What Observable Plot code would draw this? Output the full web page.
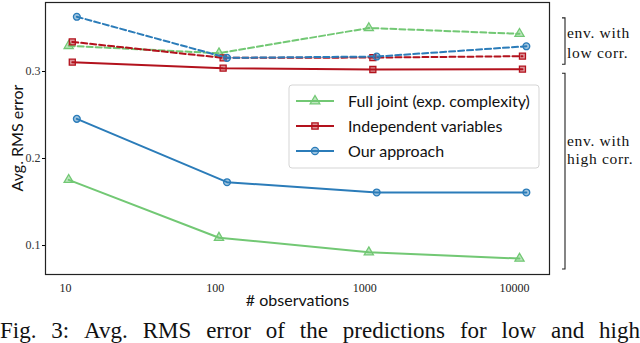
<!DOCTYPE html>
<html>
<head>
<meta charset="utf-8">
<script src="https://cdn.jsdelivr.net/npm/d3@7"></script>
<script src="https://cdn.jsdelivr.net/npm/@observablehq/plot@0.6"></script>
<style>
  html, body { margin: 0; padding: 0; background: #fff; overflow: hidden; }
  #wrap { width: 640px; height: 343px; overflow: hidden; position: relative; }
  #caption {
    font-family: "Liberation Serif", "Times New Roman", serif;
    font-size: 23px; line-height: 23px;
    margin-top: 7px; white-space: nowrap; display: flex; justify-content: space-between;
    color: #111;
  }
</style>
</head>
<body>
<div id="wrap"><div id="chart"></div><div id="caption"></div></div>
<script>
// ---- data ----
const seriesNames = ["Full joint (exp. complexity)", "Independent variables", "Our approach"];
const seriesColors = ["#72c874", "#b3121d", "#2b7cb9"];
const seriesSymbols = ["triangle", "square", "circle"];
// observation counts (slightly offset per series, as in the figure)
const obsFull = [10.5, 106, 1063, 10800];
const obsIndep = [11.1, 113, 1131, 11300];
const obsOurs = [11.9, 120, 1200, 12000];
// environment with high correlation (solid)
const fullHigh = [0.1755, 0.109, 0.0923, 0.085];
const indepHigh = [0.3107, 0.3038, 0.3023, 0.3027];
const oursHigh = [0.2456, 0.1728, 0.161, 0.161];
// environment with low correlation (dashed)
const fullLow = [0.3295, 0.321, 0.350, 0.3433];
const indepLow = [0.334, 0.3157, 0.316, 0.3176];
const oursLow = [0.3629, 0.3157, 0.3172, 0.329];
const xTicks = [10, 100, 1000, 10000];
const yTicks = [0.1, 0.2, 0.3];
const groupLabels = [["env. with", "low corr."], ["env. with", "high corr."]];
const groupRanges = [[0.3077, 0.361], [0.0724, 0.2974]];
const xLabel = "# observations";
const yLabel = "Avg. RMS error";
const captionText = "Fig. 3: Avg. RMS error of the predictions for low and high";

// ---- build table ----
const obsList = [obsFull, obsIndep, obsOurs];
const highList = [fullHigh, indepHigh, oursHigh];
const lowList = [fullLow, indepLow, oursLow];
const rows = [];
seriesNames.forEach((s, i) => {
  obsList[i].forEach((x, j) => {
    rows.push({series: s, env: "low", x, y: lowList[i][j]});
    rows.push({series: s, env: "high", x, y: highList[i][j]});
  });
});

const W = 640, H = 312, ML = 45, MR = 91, MT = 2, MB = 38;
const marks = [];
seriesNames.forEach((s, i) => {
  ["low", "high"].forEach(env => {
    const d = rows.filter(r => r.series === s && r.env === env);
    marks.push(Plot.line(d, {x: "x", y: "y", stroke: seriesColors[i], strokeWidth: 2,
      strokeDasharray: env === "low" ? "6,3" : null}));
    marks.push(Plot.dot(d, {x: "x", y: "y", symbol: () => seriesSymbols[i], r: 3.4,
      fill: seriesColors[i], fillOpacity: 0.45, stroke: seriesColors[i], strokeWidth: 1.3}));
  });
});

const plot = Plot.plot({
  width: W, height: H,
  marginLeft: ML, marginRight: MR, marginTop: MT, marginBottom: MB,
  style: {background: "transparent", overflow: "visible"},
  x: {type: "log", domain: [7.35, 17130]},
  y: {domain: [0.0667, 0.3793]},
  marks: [
    Plot.axisX({ticks: xTicks, tickFormat: d => String(d), tickSize: 0, tickPadding: 9,
      label: null, fontSize: 12, fontFamily: "Liberation Serif, serif", fill: "#222"}),
    Plot.axisY({ticks: yTicks, tickFormat: d => d.toFixed(1), tickSize: 3, tickPadding: 2,
      label: null, fontSize: 12, fontFamily: "Liberation Serif, serif", fill: "#333"}),
    ...marks,
    Plot.frame({stroke: "#222", strokeWidth: 1.2}),
    Plot.text([xLabel], {frameAnchor: "bottom", dy: 31, fontSize: 16,
      fontFamily: "Lato, sans-serif", fill: "#111"})
  ]
});
document.getElementById("chart").appendChild(plot);

const svg = d3.select(plot);
const ys = plot.scale("y");

// y axis label
svg.append("text")
  .attr("transform", `translate(23,${(MT + H - MB) / 2}) rotate(-90)`)
  .attr("text-anchor", "middle")
  .attr("font-family", "Lato, sans-serif").attr("font-size", 16).attr("fill", "#111")
  .text(yLabel);

// legend
const lg = svg.append("g").attr("transform", "translate(289,85)").attr("text-anchor", "start");
lg.append("rect").attr("width", 250).attr("height", 83).attr("rx", 3)
  .attr("fill", "#fff").attr("fill-opacity", 0.85).attr("stroke", "#d5d5d5");
const symGen = {
  triangle: d3.symbol(d3.symbolTriangle, 40),
  square: d3.symbol(d3.symbolSquare, 40),
  circle: d3.symbol(d3.symbolCircle, 40)
};
seriesNames.forEach((s, i) => {
  const yy = 16 + i * 25;
  lg.append("line").attr("x1", 7).attr("x2", 45).attr("y1", yy).attr("y2", yy)
    .attr("stroke", seriesColors[i]).attr("stroke-width", 2);
  lg.append("path").attr("d", symGen[seriesSymbols[i]]()).attr("transform", `translate(26,${yy})`)
    .attr("fill", seriesColors[i]).attr("fill-opacity", 0.45).attr("stroke", seriesColors[i]).attr("stroke-width", 1.3);
  lg.append("text").attr("x", 59).attr("y", yy).attr("dy", "0.36em")
    .attr("font-family", "Lato, sans-serif").attr("font-size", 16).attr("fill", "#111").text(s);
});

// group brackets
const bx = 565;
const textOffsets = [[-3, 16.5], [-25.5, -7]];
groupRanges.forEach((r, i) => {
  const y0 = ys.apply(r[1]), y1 = ys.apply(r[0]);
  svg.append("path").attr("d", `M${bx - 3},${y0}H${bx}V${y1}H${bx - 3}`)
    .attr("fill", "none").attr("stroke", "#222").attr("stroke-width", 1.1);
  const mid = (y0 + y1) / 2;
  groupLabels[i].forEach((t, k) => {
    svg.append("text").attr("x", bx + 2).attr("y", mid + textOffsets[i][k])
      .attr("text-anchor", "start").attr("letter-spacing", "0.7px")
      .attr("font-family", "Liberation Serif, serif").attr("font-size", 15.5).attr("fill", "#111").text(t);
  });
});

// caption
const cap = document.getElementById("caption");
captionText.split(" ").forEach(w => {
  const sp = document.createElement("span"); sp.textContent = w; cap.appendChild(sp);
});
</script>
</body>
</html>
